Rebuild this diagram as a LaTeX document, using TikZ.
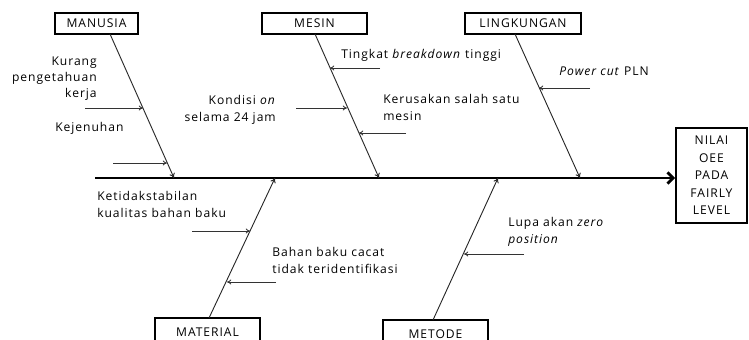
\documentclass[tikz,border=0pt]{standalone}
\usepackage{fontspec}
\setmainfont{Open Sans}[LetterSpace=8]
\usetikzlibrary{arrows.meta}
\newcommand\lblfont{\fontsize{8.6}{12.4}\selectfont}
\tikzset{cat/.style={draw,line width=1.3pt,minimum height=.525cm,inner sep=0pt,font=\lblfont},
lbl/.style={inner sep=0pt,align=left,font=\lblfont},
bone/.style={-{To[length=3.5pt,width=4pt]},draw=black!85,line width=.65pt},
cause/.style={-{To[length=3pt,width=3.5pt]},draw=black!80,line width=.55pt},
spine/.style={-{Straight Barb[length=4pt,width=8pt]},line width=2pt}}

\begin{document}
\begin{tikzpicture}[x=0.025cm,y=-0.025cm]
\clip (0,0) rectangle (749,340);
% kategori
\node[cat,minimum width=2.075cm] (manusia) at (96.5,23.5) {MANUSIA};
\node[cat,minimum width=2.625cm] (mesin) at (314.5,23.5) {MESIN};
\node[cat,minimum width=2.9cm] (lingkungan) at (523,23.5) {LINGKUNGAN};
\node[cat,minimum width=2.625cm,minimum height=.7cm] (material) at (207.5,332) {MATERIAL};
\node[cat,minimum width=2.625cm,minimum height=.7cm] (metode) at (435.5,334) {METODE};
\node[cat,minimum width=1.775cm,minimum height=2.375cm,align=center] (nilai) at (711.5,175.5) {NILAI\\OEE\\PADA\\FAIRLY\\LEVEL};
% tulang utama
\coordinate (st) at (95,178);
\draw[spine] (st) -- (st -| nilai.west);
\coordinate (mt) at (110,34);\coordinate (s1) at (174,178);
\coordinate (et) at (315,34);\coordinate (s2) at (379,178);
\coordinate (lt) at (515,34);\coordinate (s3) at (580,178);
\coordinate (at) at (209,318);\coordinate (s4) at (275,178);
\coordinate (ot) at (433,320);\coordinate (s5) at (498,178);
\foreach \t/\s in {mt/s1,et/s2,lt/s3,at/s4,ot/s5}\draw[bone] (\t) -- (\s);
% panah penyebab
\foreach \n/\a/\b/\y in {1/85/143/108,2/113/167/163,3/296/347/108,4/380/330/68,5/406/359/133,6/590/539/88,7/192/250/231,8/276/227/282,9/524/464/254}{
\coordinate (k\n) at (\a,\y);\coordinate (b\n) at (\b,\y);\draw[cause] (k\n) -- (b\n);}
% penyebab
\node[lbl,anchor=north east,align=right,font={\fontsize{8.6}{11.2}\selectfont}] (l1) at (97,57) {Kurang\\pengetahuan\\kerja};
\node[lbl,anchor=north west] (l2) at (55,122) {Kejenuhan};
\node[lbl,anchor=north east,align=right] (l3) at (276,95) {Kondisi \textit{on}\\selama 24 jam};
\node[lbl,anchor=north west] (l4) at (341,49) {Tingkat \textit{breakdown} tinggi};
\node[lbl,anchor=north west] (l5) at (383,94) {Kerusakan salah satu\\mesin};
\node[lbl,anchor=north west] (l6) at (559,67) {\textit{Power cut} PLN};
\node[lbl,anchor=north west] (l7) at (97,191) {Ketidakstabilan\\kualitas bahan baku};
\node[lbl,anchor=north west] (l8) at (272,247) {Bahan baku cacat\\tidak teridentifikasi};
\node[lbl,anchor=north west] (l9) at (508,217) {Lupa akan \textit{zero}\\\textit{position}};
\end{tikzpicture}
\end{document}
